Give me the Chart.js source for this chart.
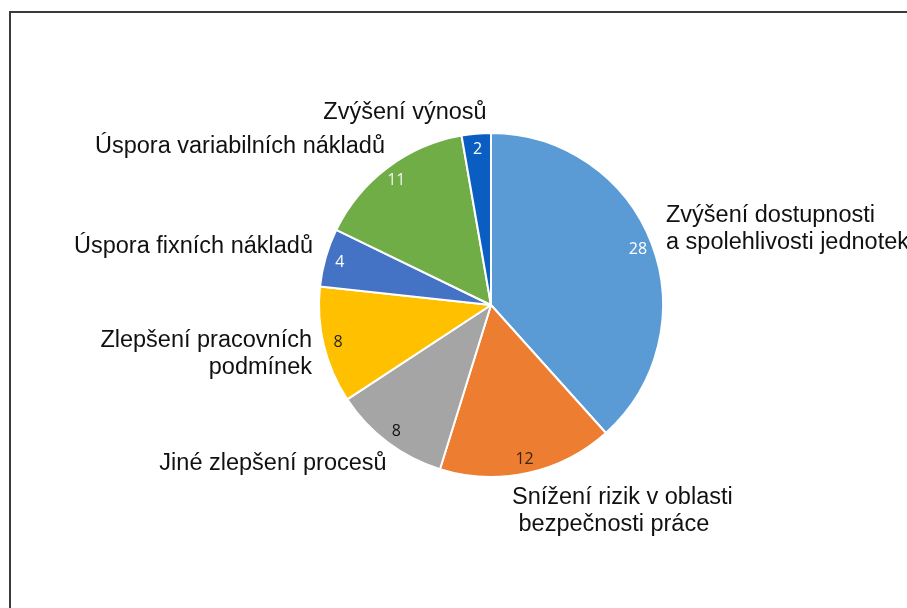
<!DOCTYPE html>
<html>
<head>
<meta charset="utf-8">
<script src="https://cdn.jsdelivr.net/npm/chart.js@4/dist/chart.umd.min.js"></script>
<style>
  html, body { margin: 0; padding: 0; background: #fff; }
  #wrap { position: relative; width: 907px; height: 608px; overflow: hidden; }
  #frame { position: absolute; left: 9px; top: 11px; width: 1000px; height: 700px;
           border-left: 2px solid #3a3a3a; border-top: 2px solid #3a3a3a; box-sizing: border-box; }
  canvas { position: absolute; left: 0; top: 0; }
</style>
</head>
<body>
<div id="wrap">
  <div id="frame"></div>
  <canvas id="c" width="907" height="608"></canvas>
</div>
<script>
const categories = [
  ["Zvýšení dostupnosti", "a spolehlivosti jednotek"],
  ["Snížení rizik v oblasti", " bezpečnosti práce"],
  ["Jiné zlepšení procesů"],
  ["Zlepšení pracovních", "podmínek"],
  ["Úspora fixních nákladů"],
  ["Úspora variabilních nákladů"],
  ["Zvýšení výnosů"]
];
const values = [28, 12, 8, 8, 4, 11, 2];
const colors = ["#5B9BD5", "#ED7D31", "#A5A5A5", "#FFC000", "#4472C4", "#70AD47", "#0A5EC2"];
const valueColors = ["#ffffff", "#3b2410", "#111111", "#222222", "#ffffff", "#f2f2f2", "#ffffff"];

// Label layout: offset from pie centre (px), text alignment
const labelLayout = [
  { dx: 175, dy: -76, align: "left" },
  { dx: 21, dy: 206, align: "left" },
  { dx: -218, dy: 159, align: "center" },
  { dx: -179, dy: 49, align: "right" },
  { dx: -178, dy: -58, align: "right" },
  { dx: -251, dy: -158, align: "center" },
  { dx: -86, dy: -192, align: "center" }
];

const labelPlugin = {
  id: 'labels',
  afterDatasetsDraw(chart) {
    const ctx = chart.ctx;
    const meta = chart.getDatasetMeta(0);
    ctx.save();
    meta.data.forEach((arc, i) => {
      const p = arc.getProps(['x', 'y', 'startAngle', 'endAngle', 'outerRadius'], true);
      const mid = (p.startAngle + p.endAngle) / 2;
      const r = p.outerRadius * 0.915;
      const x = p.x + Math.cos(mid) * r;
      const y = p.y + Math.sin(mid) * r;
      ctx.font = '16px "Open Sans", "Noto Sans", sans-serif';
      ctx.fillStyle = valueColors[i];
      ctx.textAlign = 'center';
      ctx.textBaseline = 'middle';
      ctx.fillText(String(values[i]), x, y + 1);

      const L = labelLayout[i];
      const lines = categories[i];
      ctx.font = '23.5px "Liberation Sans", Arial, sans-serif';
      ctx.fillStyle = '#111111';
      ctx.textAlign = L.align;
      const lh = 27;
      const y0 = p.y + L.dy - (lines.length - 1) * lh / 2;
      lines.forEach((t, k) => ctx.fillText(t, p.x + L.dx, y0 + k * lh));
    });
    ctx.restore();
  }
};

new Chart(document.getElementById('c'), {
  type: 'pie',
  data: {
    labels: categories.map(c => c.join(' ')),
    datasets: [{
      data: values,
      backgroundColor: colors,
      borderColor: '#ffffff',
      borderWidth: 2
    }]
  },
  options: {
    responsive: false,
    animation: false,
    layout: { padding: { left: 317, right: 242, top: 132, bottom: 130 } },
    plugins: { legend: { display: false }, tooltip: { enabled: false } }
  },
  plugins: [labelPlugin]
});
</script>
</body>
</html>
